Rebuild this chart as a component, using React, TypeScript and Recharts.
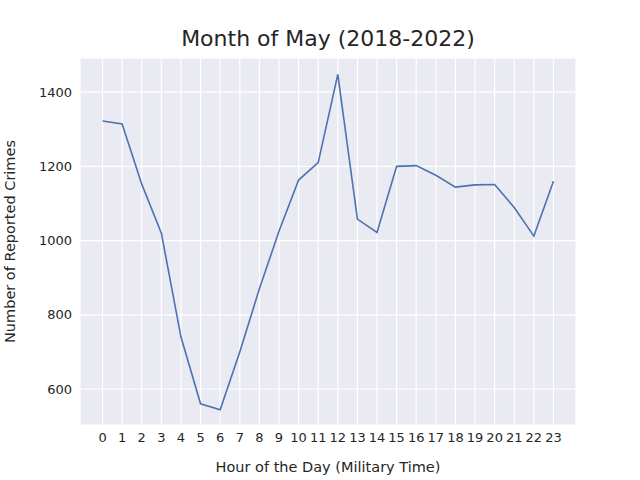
import { CartesianGrid, Line, LineChart, XAxis, YAxis } from "recharts";

const HOURS = [0, 1, 2, 3, 4, 5, 6, 7, 8, 9, 10, 11, 12, 13, 14, 15, 16, 17, 18, 19, 20, 21, 22, 23];
const CRIMES = [1322, 1314, 1152, 1020, 740, 560, 544, 700, 870, 1025, 1163, 1210, 1448, 1058, 1022, 1200, 1202, 1176, 1144, 1150, 1151, 1089, 1012, 1160];
const Y_TICKS = [600, 800, 1000, 1200, 1400];

const data = HOURS.map((h, i) => ({ hour: h, crimes: CRIMES[i] }));
const font = "'DejaVu Sans', sans-serif";
const tick = { fill: "#262626", fontSize: 13, fontFamily: font };

export default function App() {
  return (
    <div style={{ position: "fixed", left: 0, top: 0, width: 640, height: 480, background: "#fff" }}>
      <div
        style={{
          position: "absolute",
          left: 80,
          width: 496,
          top: 26,
          textAlign: "center",
          fontFamily: font,
          fontSize: 22,
          color: "#262626",
        }}
      >
        Month of May (2018-2022)
      </div>
      <LineChart width={640} height={480} data={data} margin={{ top: 58, right: 64, left: 0, bottom: 0 }}>
        <CartesianGrid fill="#EAEAF2" stroke="#fff" strokeWidth={1.2} />
        <XAxis
          dataKey="hour"
          type="number"
          domain={[-1.15, 24.15]}
          ticks={HOURS}
          interval={0}
          axisLine={false}
          tickLine={false}
          tick={tick}
          height={55}
          label={{ value: "Hour of the Day (Military Time)", position: "insideBottom", offset: 8, style: { ...tick, fontSize: 14.5 } }}
        />
        <YAxis
          type="number"
          domain={[503, 1492]}
          ticks={Y_TICKS}
          axisLine={false}
          tickLine={false}
          tick={tick}
          width={80}
          label={{ value: "Number of Reported Crimes", angle: -90, position: "insideLeft", offset: 10, style: { ...tick, fontSize: 14.5, textAnchor: "middle" } }}
        />
        <Line dataKey="crimes" stroke="#4C72B0" strokeWidth={1.6} dot={false} isAnimationActive={false} />
      </LineChart>
    </div>
  );
}
